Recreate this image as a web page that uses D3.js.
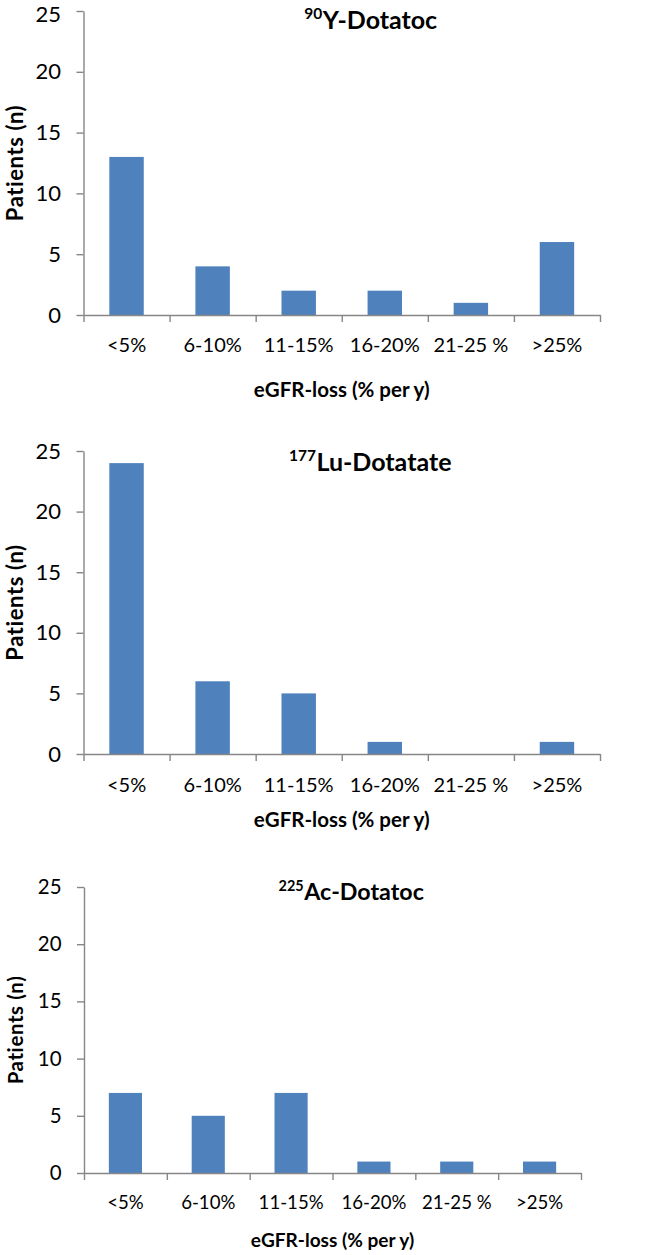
<!DOCTYPE html>
<html>
<head>
<meta charset="utf-8">
<script src="https://cdn.jsdelivr.net/npm/d3@7"></script>
<style>
  body { margin: 0; background: #fff; }
  svg { display: block; }
  text { font-family: Lato, "Open Sans", sans-serif; fill: #000; }
</style>
</head>
<body>
<svg id="chart" width="657" height="1255"></svg>
<script>
// ---- data ----
const categories = ["<5%", "6-10%", "11-15%", "16-20%", "21-25 %", ">25%"];
const yTicks = [0, 5, 10, 15, 20, 25];
const y90Values = [13, 4, 2, 2, 1, 6];
const lu177Values = [24, 6, 5, 1, 0, 1];
const ac225Values = [7, 5, 7, 1, 1, 1];
const titleSup = ["90", "177", "225"];
const titleMain = ["Y-Dotatoc", "Lu-Dotatate", "Ac-Dotatoc"];
const xTitle = "eGFR-loss (% per y)";
const yTitle = "Patients (n)";

// ---- layout (per panel) ----
const layouts = [
  {left: 83.5, right: 600, top: 11, bottom: 315, titleX: 370.5, titleBase: 28.5, tickLabY: 345, xTitleY: 390, yTitleBase: 22.5, fs: 1},
  {left: 83.5, right: 600, top: 451, bottom: 754, titleX: 370, titleBase: 471, tickLabY: 785, xTitleY: 820, yTitleBase: 22.5, fs: 1},
  {left: 84, right: 581, top: 887, bottom: 1173, titleX: 351, titleBase: 900, tickLabY: 1202, xTitleY: 1240, yTitleBase: 22.5, fs: 0.93}
];
const seriesList = [y90Values, lu177Values, ac225Values];

const svg = d3.select("#chart");
const axisColor = "#868686";
const barColor = "#4F81BD";

seriesList.forEach((values, i) => {
  const L = layouts[i];
  const g = svg.append("g");
  const x = d3.scaleBand().domain(categories).range([L.left, L.right])
    .paddingInner(0.6).paddingOuter(0.3);
  const y = d3.scaleLinear().domain([0, 25]).range([L.bottom, L.top]);

  // bars
  g.selectAll("rect.bar").data(values).join("rect")
    .attr("class", "bar")
    .attr("x", (d, j) => x(categories[j]))
    .attr("width", x.bandwidth())
    .attr("y", d => y(d))
    .attr("height", d => y(0) - y(d))
    .attr("fill", barColor);

  // y axis
  const yAxis = g.append("g").attr("transform", `translate(${L.left},0)`)
    .call(d3.axisLeft(y).tickValues(yTicks).tickSize(7).tickSizeOuter(0).tickPadding(15.5));
  yAxis.select(".domain").attr("stroke", axisColor).attr("stroke-width", 1.4);
  yAxis.selectAll(".tick line").attr("stroke", axisColor).attr("stroke-width", 1.4);
  yAxis.selectAll(".tick text").attr("font-size", 22 * L.fs).attr("font-family", "Lato").attr("fill", "#000");

  // x axis: boundary ticks
  const bounds = categories.map(c => x(c) - x.step() * 0.3).concat([L.right]);
  const xb = d3.scaleLinear().domain([L.left, L.right]).range([L.left, L.right]);
  const xAxisTicks = g.append("g").attr("transform", `translate(0,${L.bottom})`)
    .call(d3.axisBottom(xb).tickValues(bounds).tickSize(7).tickSizeOuter(0).tickFormat(""));
  xAxisTicks.select(".domain").attr("stroke", axisColor).attr("stroke-width", 1.4);
  xAxisTicks.selectAll(".tick line").attr("stroke", axisColor).attr("stroke-width", 1.4);

  // x axis: labels
  const xAxisLab = g.append("g").attr("transform", `translate(0,${L.bottom})`)
    .call(d3.axisBottom(x).tickSize(0).tickPadding(0));
  xAxisLab.select(".domain").remove();
  xAxisLab.selectAll(".tick text")
    .attr("font-size", 20 * L.fs).attr("font-family", "Lato").attr("fill", "#000")
    .attr("y", L.tickLabY - L.bottom).attr("dy", "0.36em");

  // x axis title
  g.append("text")
    .attr("x", (L.left + L.right) / 2).attr("y", L.xTitleY).attr("dy", "0.36em")
    .attr("text-anchor", "middle").attr("font-weight", "bold").attr("font-size", 20.5 * L.fs)
    .text(xTitle);

  // y axis title
  const yc = (L.top + L.bottom) / 2;
  g.append("text")
    .attr("transform", `translate(${L.yTitleBase},${yc}) rotate(-90)`)
    .attr("text-anchor", "middle").attr("font-weight", "bold").attr("font-size", 22 * L.fs)
    .attr("letter-spacing", 0.6)
    .text(yTitle);

  // panel title with superscript (separate text elements)
  const supT = g.append("text")
    .attr("y", L.titleBase - 10 * L.fs)
    .attr("font-weight", "bold").attr("font-size", 15.5 * L.fs)
    .text(titleSup[i]);
  const mainT = g.append("text")
    .attr("y", L.titleBase)
    .attr("font-weight", "bold").attr("font-size", 25 * L.fs)
    .text(titleMain[i]);
  const w1 = supT.node().getComputedTextLength();
  const w2 = mainT.node().getComputedTextLength();
  const start = L.titleX - (w1 + w2) / 2;
  supT.attr("x", start);
  mainT.attr("x", start + w1 + 0.5);
});

// keep every text inside the picture
svg.selectAll("text").each(function() {
  const b = this.getBBox();
  const m = this.getScreenCTM();
  const top = m ? b.y + m.f : b.y;
  if (this.parentNode.classList.contains("tick") && top < 0) {
    d3.select(this).attr("dy", null).attr("y", -top + (+this.getAttribute("y") || 0) + 0.32 * parseFloat(this.getAttribute("font-size")));
  }
});
</script>
</body>
</html>
